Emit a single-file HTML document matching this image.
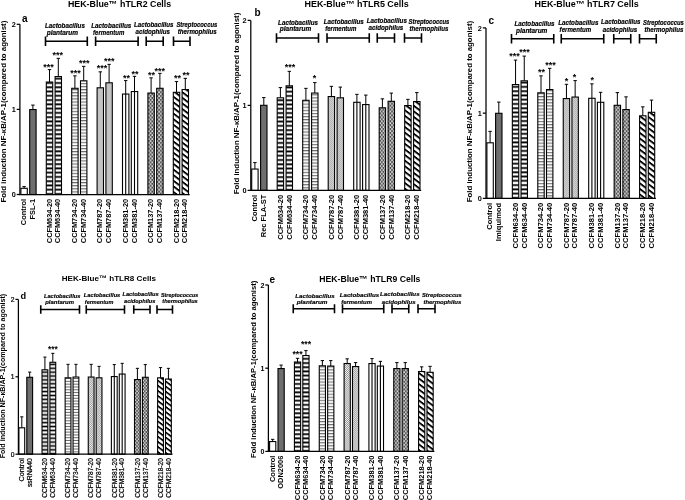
<!DOCTYPE html>
<html lang="en"><head><meta charset="utf-8"><title>HEK-Blue hTLR reporter assays</title>
<style>html,body{margin:0;padding:0;background:#fff}svg{display:block}text{font-family:'Liberation Sans', sans-serif;fill:#000}</style>
</head><body>
<svg width="685" height="500" viewBox="0 0 685 500">
<rect width="685" height="500" fill="#fff"/>
<defs><pattern id="pH0" patternUnits="userSpaceOnUse" width="8" height="4.27" patternTransform="translate(0 194.5) scale(1)"><rect width="8" height="4.27" fill="#fff"/><rect y="2.87" width="8" height="1.4" fill="#000"/><rect y="0" width="8" height="0.4" fill="#000"/></pattern><pattern id="pG0" patternUnits="userSpaceOnUse" width="8" height="3.1" patternTransform="translate(0 194.5) scale(1)"><rect width="8" height="3.1" fill="#fff"/><rect y="0.2" width="8" height="0.8" fill="#3a3a3a"/><rect y="1.8" width="8" height="0.5" fill="#ececec"/></pattern><pattern id="pD0" patternUnits="userSpaceOnUse" width="2" height="2" patternTransform="translate(0 194.5) scale(1)"><rect width="2" height="2" fill="#fff"/><rect width="0.9" height="0.9" fill="#6a6a6a"/><rect x="1" y="1" width="0.9" height="0.9" fill="#6a6a6a"/></pattern><pattern id="pB0" patternUnits="userSpaceOnUse" width="3.4" height="3.9" patternTransform="translate(0 194.5) scale(1)"><rect width="3.4" height="3.9" fill="#484848"/><rect x="0.2" y="0.3" width="1.7" height="1.5" fill="#fff"/><rect x="1.9" y="2.25" width="1.7" height="1.5" fill="#fff"/><rect x="-1.5" y="2.25" width="1.7" height="1.5" fill="#fff"/></pattern><pattern id="pX0" patternUnits="userSpaceOnUse" width="8" height="5.6" patternTransform="translate(0 194.5) scale(1) skewY(37)"><rect width="8" height="5.6" fill="#fff"/><rect y="0" width="8" height="2.3" fill="#000"/></pattern><pattern id="pH1" patternUnits="userSpaceOnUse" width="8" height="4.27" patternTransform="translate(0 190.4) scale(1)"><rect width="8" height="4.27" fill="#fff"/><rect y="2.87" width="8" height="1.4" fill="#000"/><rect y="0" width="8" height="0.4" fill="#000"/></pattern><pattern id="pG1" patternUnits="userSpaceOnUse" width="8" height="3.1" patternTransform="translate(0 190.4) scale(1)"><rect width="8" height="3.1" fill="#fff"/><rect y="0.2" width="8" height="0.8" fill="#3a3a3a"/><rect y="1.8" width="8" height="0.5" fill="#ececec"/></pattern><pattern id="pD1" patternUnits="userSpaceOnUse" width="2" height="2" patternTransform="translate(0 190.4) scale(1)"><rect width="2" height="2" fill="#fff"/><rect width="0.9" height="0.9" fill="#6a6a6a"/><rect x="1" y="1" width="0.9" height="0.9" fill="#6a6a6a"/></pattern><pattern id="pB1" patternUnits="userSpaceOnUse" width="3.4" height="3.9" patternTransform="translate(0 190.4) scale(1)"><rect width="3.4" height="3.9" fill="#484848"/><rect x="0.2" y="0.3" width="1.7" height="1.5" fill="#fff"/><rect x="1.9" y="2.25" width="1.7" height="1.5" fill="#fff"/><rect x="-1.5" y="2.25" width="1.7" height="1.5" fill="#fff"/></pattern><pattern id="pX1" patternUnits="userSpaceOnUse" width="8" height="5.6" patternTransform="translate(0 190.4) scale(1) skewY(37)"><rect width="8" height="5.6" fill="#fff"/><rect y="0" width="8" height="2.3" fill="#000"/></pattern><pattern id="pH2" patternUnits="userSpaceOnUse" width="8" height="4.27" patternTransform="translate(0 198.4) scale(1)"><rect width="8" height="4.27" fill="#fff"/><rect y="2.87" width="8" height="1.4" fill="#000"/><rect y="0" width="8" height="0.4" fill="#000"/></pattern><pattern id="pG2" patternUnits="userSpaceOnUse" width="8" height="3.1" patternTransform="translate(0 198.4) scale(1)"><rect width="8" height="3.1" fill="#fff"/><rect y="0.2" width="8" height="0.8" fill="#3a3a3a"/><rect y="1.8" width="8" height="0.5" fill="#ececec"/></pattern><pattern id="pD2" patternUnits="userSpaceOnUse" width="2" height="2" patternTransform="translate(0 198.4) scale(1)"><rect width="2" height="2" fill="#fff"/><rect width="0.9" height="0.9" fill="#6a6a6a"/><rect x="1" y="1" width="0.9" height="0.9" fill="#6a6a6a"/></pattern><pattern id="pB2" patternUnits="userSpaceOnUse" width="3.4" height="3.9" patternTransform="translate(0 198.4) scale(1)"><rect width="3.4" height="3.9" fill="#484848"/><rect x="0.2" y="0.3" width="1.7" height="1.5" fill="#fff"/><rect x="1.9" y="2.25" width="1.7" height="1.5" fill="#fff"/><rect x="-1.5" y="2.25" width="1.7" height="1.5" fill="#fff"/></pattern><pattern id="pX2" patternUnits="userSpaceOnUse" width="8" height="5.6" patternTransform="translate(0 198.4) scale(1) skewY(37)"><rect width="8" height="5.6" fill="#fff"/><rect y="0" width="8" height="2.3" fill="#000"/></pattern><pattern id="pH3" patternUnits="userSpaceOnUse" width="8" height="4.27" patternTransform="translate(0 454.2) scale(0.91)"><rect width="8" height="4.27" fill="#fff"/><rect y="2.87" width="8" height="1.4" fill="#000"/><rect y="0" width="8" height="0.4" fill="#000"/></pattern><pattern id="pG3" patternUnits="userSpaceOnUse" width="8" height="3.1" patternTransform="translate(0 454.2) scale(0.91)"><rect width="8" height="3.1" fill="#fff"/><rect y="0.2" width="8" height="0.8" fill="#3a3a3a"/><rect y="1.8" width="8" height="0.5" fill="#ececec"/></pattern><pattern id="pD3" patternUnits="userSpaceOnUse" width="2" height="2" patternTransform="translate(0 454.2) scale(0.91)"><rect width="2" height="2" fill="#fff"/><rect width="0.9" height="0.9" fill="#6a6a6a"/><rect x="1" y="1" width="0.9" height="0.9" fill="#6a6a6a"/></pattern><pattern id="pB3" patternUnits="userSpaceOnUse" width="3.4" height="3.9" patternTransform="translate(0 454.2) scale(0.91)"><rect width="3.4" height="3.9" fill="#484848"/><rect x="0.2" y="0.3" width="1.7" height="1.5" fill="#fff"/><rect x="1.9" y="2.25" width="1.7" height="1.5" fill="#fff"/><rect x="-1.5" y="2.25" width="1.7" height="1.5" fill="#fff"/></pattern><pattern id="pX3" patternUnits="userSpaceOnUse" width="8" height="5.6" patternTransform="translate(0 454.2) scale(0.91) skewY(37)"><rect width="8" height="5.6" fill="#fff"/><rect y="0" width="8" height="2.3" fill="#000"/></pattern><pattern id="pH4" patternUnits="userSpaceOnUse" width="8" height="4.27" patternTransform="translate(0 451.4) scale(0.98)"><rect width="8" height="4.27" fill="#fff"/><rect y="2.87" width="8" height="1.4" fill="#000"/><rect y="0" width="8" height="0.4" fill="#000"/></pattern><pattern id="pG4" patternUnits="userSpaceOnUse" width="8" height="3.1" patternTransform="translate(0 451.4) scale(0.98)"><rect width="8" height="3.1" fill="#fff"/><rect y="0.2" width="8" height="0.8" fill="#3a3a3a"/><rect y="1.8" width="8" height="0.5" fill="#ececec"/></pattern><pattern id="pD4" patternUnits="userSpaceOnUse" width="2" height="2" patternTransform="translate(0 451.4) scale(0.98)"><rect width="2" height="2" fill="#fff"/><rect width="0.9" height="0.9" fill="#6a6a6a"/><rect x="1" y="1" width="0.9" height="0.9" fill="#6a6a6a"/></pattern><pattern id="pB4" patternUnits="userSpaceOnUse" width="3.4" height="3.9" patternTransform="translate(0 451.4) scale(0.98)"><rect width="3.4" height="3.9" fill="#484848"/><rect x="0.2" y="0.3" width="1.7" height="1.5" fill="#fff"/><rect x="1.9" y="2.25" width="1.7" height="1.5" fill="#fff"/><rect x="-1.5" y="2.25" width="1.7" height="1.5" fill="#fff"/></pattern><pattern id="pX4" patternUnits="userSpaceOnUse" width="8" height="5.6" patternTransform="translate(0 451.4) scale(0.98) skewY(37)"><rect width="8" height="5.6" fill="#fff"/><rect y="0" width="8" height="2.3" fill="#000"/></pattern></defs>
<g>
<line x1="24.1" y1="188.3" x2="24.1" y2="186.6" stroke="#000" stroke-width="1.0"/><line x1="22.4" y1="186.6" x2="25.8" y2="186.6" stroke="#000" stroke-width="1.0"/>
<rect x="20.9" y="188.3" width="6.4" height="6.2" fill="#fff" stroke="#000" stroke-width="1.1"/>
<line x1="32.9" y1="109.55" x2="32.9" y2="105.1" stroke="#000" stroke-width="1.0"/><line x1="31.2" y1="105.1" x2="34.6" y2="105.1" stroke="#000" stroke-width="1.0"/>
<rect x="29.7" y="109.55" width="6.4" height="84.95" fill="#6e6e6e" stroke="#000" stroke-width="1.1"/>
<line x1="49.5" y1="82.05" x2="49.5" y2="69.6" stroke="#000" stroke-width="1.0"/><line x1="47.8" y1="69.6" x2="51.2" y2="69.6" stroke="#000" stroke-width="1.0"/>
<rect x="46.3" y="82.05" width="6.4" height="112.45" fill="url(#pH0)" stroke="#000" stroke-width="1.1"/>
<line x1="58.3" y1="76.55" x2="58.3" y2="58.35" stroke="#000" stroke-width="1.0"/><line x1="56.6" y1="58.35" x2="60" y2="58.35" stroke="#000" stroke-width="1.0"/>
<rect x="55.1" y="76.55" width="6.4" height="117.95" fill="url(#pH0)" stroke="#000" stroke-width="1.1"/>
<line x1="74.9" y1="88.3" x2="74.9" y2="75.85" stroke="#000" stroke-width="1.0"/><line x1="73.2" y1="75.85" x2="76.6" y2="75.85" stroke="#000" stroke-width="1.0"/>
<rect x="71.7" y="88.3" width="6.4" height="106.2" fill="url(#pG0)" stroke="#000" stroke-width="1.1"/>
<line x1="83.7" y1="80.8" x2="83.7" y2="66.35" stroke="#000" stroke-width="1.0"/><line x1="82" y1="66.35" x2="85.4" y2="66.35" stroke="#000" stroke-width="1.0"/>
<rect x="80.5" y="80.8" width="6.4" height="113.7" fill="url(#pG0)" stroke="#000" stroke-width="1.1"/>
<line x1="100.3" y1="87.8" x2="100.3" y2="71.85" stroke="#000" stroke-width="1.0"/><line x1="98.6" y1="71.85" x2="102" y2="71.85" stroke="#000" stroke-width="1.0"/>
<rect x="97.1" y="87.8" width="6.4" height="106.7" fill="url(#pD0)" stroke="#000" stroke-width="1.1"/>
<line x1="109.1" y1="82.8" x2="109.1" y2="64.35" stroke="#000" stroke-width="1.0"/><line x1="107.4" y1="64.35" x2="110.8" y2="64.35" stroke="#000" stroke-width="1.0"/>
<rect x="105.9" y="82.8" width="6.4" height="111.7" fill="url(#pD0)" stroke="#000" stroke-width="1.1"/>
<line x1="125.7" y1="94.05" x2="125.7" y2="80.6" stroke="#000" stroke-width="1.0"/><line x1="124" y1="80.6" x2="127.4" y2="80.6" stroke="#000" stroke-width="1.0"/>
<rect x="122.5" y="94.05" width="6.4" height="100.45" fill="#fff" stroke="#000" stroke-width="1.1"/><line x1="125.7" y1="94.05" x2="125.7" y2="194.5" stroke="#000" stroke-width="1.1"/>
<line x1="134.5" y1="91.55" x2="134.5" y2="76.35" stroke="#000" stroke-width="1.0"/><line x1="132.8" y1="76.35" x2="136.2" y2="76.35" stroke="#000" stroke-width="1.0"/>
<rect x="131.3" y="91.55" width="6.4" height="102.95" fill="#fff" stroke="#000" stroke-width="1.1"/><line x1="134.5" y1="91.55" x2="134.5" y2="194.5" stroke="#000" stroke-width="1.1"/>
<line x1="151.1" y1="93.05" x2="151.1" y2="77.85" stroke="#000" stroke-width="1.0"/><line x1="149.4" y1="77.85" x2="152.8" y2="77.85" stroke="#000" stroke-width="1.0"/>
<rect x="147.9" y="93.05" width="6.4" height="101.45" fill="url(#pB0)" stroke="#000" stroke-width="1.1"/>
<line x1="159.9" y1="88.3" x2="159.9" y2="73.35" stroke="#000" stroke-width="1.0"/><line x1="158.2" y1="73.35" x2="161.6" y2="73.35" stroke="#000" stroke-width="1.0"/>
<rect x="156.7" y="88.3" width="6.4" height="106.2" fill="url(#pB0)" stroke="#000" stroke-width="1.1"/>
<line x1="176.5" y1="92.3" x2="176.5" y2="81.6" stroke="#000" stroke-width="1.0"/><line x1="174.8" y1="81.6" x2="178.2" y2="81.6" stroke="#000" stroke-width="1.0"/>
<rect x="173.3" y="92.3" width="6.4" height="102.2" fill="url(#pX0)" stroke="#000" stroke-width="1.1"/>
<line x1="185.3" y1="89.55" x2="185.3" y2="78.35" stroke="#000" stroke-width="1.0"/><line x1="183.6" y1="78.35" x2="187" y2="78.35" stroke="#000" stroke-width="1.0"/>
<rect x="182.1" y="89.55" width="6.4" height="104.95" fill="url(#pX0)" stroke="#000" stroke-width="1.1"/>
<path d="M19.9 24.3V194.5H189.7" stroke="#000" stroke-width="1.25" fill="none"/>
<line x1="16.7" y1="194.5" x2="19.9" y2="194.5" stroke="#000" stroke-width="1.25"/>
<text x="15.7" y="197.1" font-size="7.3" font-weight="bold" text-anchor="end">0</text>
<line x1="16.7" y1="109.4" x2="19.9" y2="109.4" stroke="#000" stroke-width="1.25"/>
<text x="15.7" y="112" font-size="7.3" font-weight="bold" text-anchor="end">1</text>
<line x1="16.7" y1="24.3" x2="19.9" y2="24.3" stroke="#000" stroke-width="1.25"/>
<text x="15.7" y="26.9" font-size="7.3" font-weight="bold" text-anchor="end">2</text>
<text x="6.3" y="202.5" font-size="7.8" font-weight="bold" transform="rotate(-90 6.3 202.5)" textLength="181.8" lengthAdjust="spacingAndGlyphs">Fold induction NF-κB/AP-1(compared to agonist)</text>
<text x="26.24" y="198.9" font-size="7.38" font-weight="bold" text-anchor="end" transform="rotate(-90 26.24 198.9)" textLength="26.23" lengthAdjust="spacingAndGlyphs">Control</text>
<text x="35.04" y="198.9" font-size="7.38" font-weight="bold" text-anchor="end" transform="rotate(-90 35.04 198.9)" textLength="20.5" lengthAdjust="spacingAndGlyphs">FSL-1</text>
<text x="51.64" y="198.9" font-size="7.38" font-weight="bold" text-anchor="end" transform="rotate(-90 51.64 198.9)" textLength="44.29" lengthAdjust="spacingAndGlyphs">CCFM634-20</text>
<text x="60.44" y="198.9" font-size="7.38" font-weight="bold" text-anchor="end" transform="rotate(-90 60.44 198.9)" textLength="44.29" lengthAdjust="spacingAndGlyphs">CCFM634-40</text>
<text x="77.04" y="198.9" font-size="7.38" font-weight="bold" text-anchor="end" transform="rotate(-90 77.04 198.9)" textLength="44.29" lengthAdjust="spacingAndGlyphs">CCFM734-20</text>
<text x="85.84" y="198.9" font-size="7.38" font-weight="bold" text-anchor="end" transform="rotate(-90 85.84 198.9)" textLength="44.29" lengthAdjust="spacingAndGlyphs">CCFM734-40</text>
<text x="102.44" y="198.9" font-size="7.38" font-weight="bold" text-anchor="end" transform="rotate(-90 102.44 198.9)" textLength="44.29" lengthAdjust="spacingAndGlyphs">CCFM787-20</text>
<text x="111.24" y="198.9" font-size="7.38" font-weight="bold" text-anchor="end" transform="rotate(-90 111.24 198.9)" textLength="44.29" lengthAdjust="spacingAndGlyphs">CCFM787-40</text>
<text x="127.84" y="198.9" font-size="7.38" font-weight="bold" text-anchor="end" transform="rotate(-90 127.84 198.9)" textLength="44.29" lengthAdjust="spacingAndGlyphs">CCFM381-20</text>
<text x="136.64" y="198.9" font-size="7.38" font-weight="bold" text-anchor="end" transform="rotate(-90 136.64 198.9)" textLength="44.29" lengthAdjust="spacingAndGlyphs">CCFM381-40</text>
<text x="153.24" y="198.9" font-size="7.38" font-weight="bold" text-anchor="end" transform="rotate(-90 153.24 198.9)" textLength="44.29" lengthAdjust="spacingAndGlyphs">CCFM137-20</text>
<text x="162.04" y="198.9" font-size="7.38" font-weight="bold" text-anchor="end" transform="rotate(-90 162.04 198.9)" textLength="44.29" lengthAdjust="spacingAndGlyphs">CCFM137-40</text>
<text x="178.64" y="198.9" font-size="7.38" font-weight="bold" text-anchor="end" transform="rotate(-90 178.64 198.9)" textLength="44.29" lengthAdjust="spacingAndGlyphs">CCFM218-20</text>
<text x="187.44" y="198.9" font-size="7.38" font-weight="bold" text-anchor="end" transform="rotate(-90 187.44 198.9)" textLength="44.29" lengthAdjust="spacingAndGlyphs">CCFM218-40</text>
<text x="67.9" y="7.4" font-size="8.6" font-weight="bold" textLength="103.3" lengthAdjust="spacingAndGlyphs">HEK-Blue™ hTLR2 Cells</text>
<text x="22.1" y="21.6" font-size="10" font-weight="bold">a</text>
<path d="M45.5 36.55V46.05M87.3 36.55V46.05M45.5 41.3H87.3" stroke="#000" stroke-width="1.6" fill="none"/>
<path d="M95.6 36.55V46.05M138.1 36.55V46.05M95.6 41.3H138.1" stroke="#000" stroke-width="1.6" fill="none"/>
<path d="M146.2 36.55V46.05M163.2 36.55V46.05M146.2 41.3H163.2" stroke="#000" stroke-width="1.6" fill="none"/>
<path d="M173.5 36.55V46.05M190 36.55V46.05M173.5 41.3H190" stroke="#000" stroke-width="1.6" fill="none"/>
<text x="44.9" y="28.1" font-size="6.3" font-weight="bold" font-style="italic" textLength="40" lengthAdjust="spacingAndGlyphs" stroke="#000" stroke-width="0.18">Lactobacillus</text>
<text x="46.7" y="34.7" font-size="6.3" font-weight="bold" font-style="italic" textLength="31.4" lengthAdjust="spacingAndGlyphs" stroke="#000" stroke-width="0.18">plantarum</text>
<text x="91.2" y="28.1" font-size="6.3" font-weight="bold" font-style="italic" textLength="40" lengthAdjust="spacingAndGlyphs" stroke="#000" stroke-width="0.18">Lactobacillus</text>
<text x="93.1" y="34.7" font-size="6.3" font-weight="bold" font-style="italic" textLength="31.2" lengthAdjust="spacingAndGlyphs" stroke="#000" stroke-width="0.18">fermentum</text>
<text x="134" y="26.7" font-size="6.3" font-weight="bold" font-style="italic" textLength="39.5" lengthAdjust="spacingAndGlyphs" stroke="#000" stroke-width="0.18">Lactobacillus</text>
<text x="135.5" y="33.5" font-size="6.3" font-weight="bold" font-style="italic" textLength="34.5" lengthAdjust="spacingAndGlyphs" stroke="#000" stroke-width="0.18">acidophilus</text>
<text x="176.4" y="27.4" font-size="6.3" font-weight="bold" font-style="italic" textLength="40.9" lengthAdjust="spacingAndGlyphs" stroke="#000" stroke-width="0.18">Streptococcus</text>
<text x="177.8" y="34" font-size="6.3" font-weight="bold" font-style="italic" textLength="38.9" lengthAdjust="spacingAndGlyphs" stroke="#000" stroke-width="0.18">thermophilus</text>
<text x="48.5" y="69.8" font-size="9" font-weight="bold" text-anchor="middle">***</text>
<text x="57.8" y="58.2" font-size="9" font-weight="bold" text-anchor="middle">***</text>
<text x="75.6" y="76" font-size="9" font-weight="bold" text-anchor="middle">***</text>
<text x="84.2" y="65.8" font-size="9" font-weight="bold" text-anchor="middle">***</text>
<text x="102.1" y="71" font-size="9" font-weight="bold" text-anchor="middle">***</text>
<text x="109.3" y="64" font-size="9" font-weight="bold" text-anchor="middle">***</text>
<text x="126.5" y="80.9" font-size="9" font-weight="bold" text-anchor="middle">**</text>
<text x="135" y="76.9" font-size="9" font-weight="bold" text-anchor="middle">**</text>
<text x="151.5" y="77.65" font-size="9" font-weight="bold" text-anchor="middle">**</text>
<text x="159.75" y="73.65" font-size="9" font-weight="bold" text-anchor="middle">***</text>
<text x="177.5" y="81.4" font-size="9" font-weight="bold" text-anchor="middle">**</text>
<text x="186" y="78.4" font-size="9" font-weight="bold" text-anchor="middle">**</text>
</g>
<g>
<line x1="254.9" y1="169.05" x2="254.9" y2="162.6" stroke="#000" stroke-width="1.0"/><line x1="253.2" y1="162.6" x2="256.6" y2="162.6" stroke="#000" stroke-width="1.0"/>
<rect x="251.7" y="169.05" width="6.4" height="21.35" fill="#fff" stroke="#000" stroke-width="1.1"/>
<line x1="263.8" y1="105.3" x2="263.8" y2="97.6" stroke="#000" stroke-width="1.0"/><line x1="262.1" y1="97.6" x2="265.5" y2="97.6" stroke="#000" stroke-width="1.0"/>
<rect x="260.6" y="105.3" width="6.4" height="85.1" fill="#6e6e6e" stroke="#000" stroke-width="1.1"/>
<line x1="280.4" y1="97.8" x2="280.4" y2="87.6" stroke="#000" stroke-width="1.0"/><line x1="278.7" y1="87.6" x2="282.1" y2="87.6" stroke="#000" stroke-width="1.0"/>
<rect x="277.2" y="97.8" width="6.4" height="92.6" fill="url(#pH1)" stroke="#000" stroke-width="1.1"/>
<line x1="289.3" y1="85.8" x2="289.3" y2="71.35" stroke="#000" stroke-width="1.0"/><line x1="287.6" y1="71.35" x2="291" y2="71.35" stroke="#000" stroke-width="1.0"/>
<rect x="286.1" y="85.8" width="6.4" height="104.6" fill="url(#pH1)" stroke="#000" stroke-width="1.1"/>
<line x1="305.9" y1="100.3" x2="305.9" y2="88.35" stroke="#000" stroke-width="1.0"/><line x1="304.2" y1="88.35" x2="307.6" y2="88.35" stroke="#000" stroke-width="1.0"/>
<rect x="302.7" y="100.3" width="6.4" height="90.1" fill="url(#pG1)" stroke="#000" stroke-width="1.1"/>
<line x1="314.8" y1="93.05" x2="314.8" y2="82.6" stroke="#000" stroke-width="1.0"/><line x1="313.1" y1="82.6" x2="316.5" y2="82.6" stroke="#000" stroke-width="1.0"/>
<rect x="311.6" y="93.05" width="6.4" height="97.35" fill="url(#pG1)" stroke="#000" stroke-width="1.1"/>
<line x1="331.4" y1="96.55" x2="331.4" y2="86.35" stroke="#000" stroke-width="1.0"/><line x1="329.7" y1="86.35" x2="333.1" y2="86.35" stroke="#000" stroke-width="1.0"/>
<rect x="328.2" y="96.55" width="6.4" height="93.85" fill="url(#pD1)" stroke="#000" stroke-width="1.1"/>
<line x1="340.3" y1="97.8" x2="340.3" y2="87.1" stroke="#000" stroke-width="1.0"/><line x1="338.6" y1="87.1" x2="342" y2="87.1" stroke="#000" stroke-width="1.0"/>
<rect x="337.1" y="97.8" width="6.4" height="92.6" fill="url(#pD1)" stroke="#000" stroke-width="1.1"/>
<line x1="356.9" y1="102.3" x2="356.9" y2="94.35" stroke="#000" stroke-width="1.0"/><line x1="355.2" y1="94.35" x2="358.6" y2="94.35" stroke="#000" stroke-width="1.0"/>
<rect x="353.7" y="102.3" width="6.4" height="88.1" fill="#fff" stroke="#000" stroke-width="1.1"/><line x1="356.9" y1="102.3" x2="356.9" y2="190.4" stroke="#000" stroke-width="1.1"/>
<line x1="365.8" y1="104.55" x2="365.8" y2="95.1" stroke="#000" stroke-width="1.0"/><line x1="364.1" y1="95.1" x2="367.5" y2="95.1" stroke="#000" stroke-width="1.0"/>
<rect x="362.6" y="104.55" width="6.4" height="85.85" fill="#fff" stroke="#000" stroke-width="1.1"/><line x1="365.8" y1="104.55" x2="365.8" y2="190.4" stroke="#000" stroke-width="1.1"/>
<line x1="382.4" y1="107.8" x2="382.4" y2="98.85" stroke="#000" stroke-width="1.0"/><line x1="380.7" y1="98.85" x2="384.1" y2="98.85" stroke="#000" stroke-width="1.0"/>
<rect x="379.2" y="107.8" width="6.4" height="82.6" fill="url(#pB1)" stroke="#000" stroke-width="1.1"/>
<line x1="391.3" y1="101.3" x2="391.3" y2="93.1" stroke="#000" stroke-width="1.0"/><line x1="389.6" y1="93.1" x2="393" y2="93.1" stroke="#000" stroke-width="1.0"/>
<rect x="388.1" y="101.3" width="6.4" height="89.1" fill="url(#pB1)" stroke="#000" stroke-width="1.1"/>
<line x1="407.9" y1="105.55" x2="407.9" y2="99.35" stroke="#000" stroke-width="1.0"/><line x1="406.2" y1="99.35" x2="409.6" y2="99.35" stroke="#000" stroke-width="1.0"/>
<rect x="404.7" y="105.55" width="6.4" height="84.85" fill="url(#pX1)" stroke="#000" stroke-width="1.1"/>
<line x1="416.8" y1="101.55" x2="416.8" y2="92.6" stroke="#000" stroke-width="1.0"/><line x1="415.1" y1="92.6" x2="418.5" y2="92.6" stroke="#000" stroke-width="1.0"/>
<rect x="413.6" y="101.55" width="6.4" height="88.85" fill="url(#pX1)" stroke="#000" stroke-width="1.1"/>
<path d="M250.8 20.4V190.4H421.2" stroke="#000" stroke-width="1.25" fill="none"/>
<line x1="247.6" y1="190.4" x2="250.8" y2="190.4" stroke="#000" stroke-width="1.25"/>
<text x="246.6" y="193" font-size="7.3" font-weight="bold" text-anchor="end">0</text>
<line x1="247.6" y1="105.4" x2="250.8" y2="105.4" stroke="#000" stroke-width="1.25"/>
<text x="246.6" y="108" font-size="7.3" font-weight="bold" text-anchor="end">1</text>
<line x1="247.6" y1="20.4" x2="250.8" y2="20.4" stroke="#000" stroke-width="1.25"/>
<text x="246.6" y="23" font-size="7.3" font-weight="bold" text-anchor="end">2</text>
<text x="238.7" y="194.3" font-size="7.8" font-weight="bold" transform="rotate(-90 238.7 194.3)" textLength="181.6" lengthAdjust="spacingAndGlyphs">Fold induction NF-κB/AP-1(compared to agonist)</text>
<text x="257.18" y="194.8" font-size="7.48" font-weight="bold" text-anchor="end" transform="rotate(-90 257.18 194.8)" textLength="26.59" lengthAdjust="spacingAndGlyphs">Control</text>
<text x="266.08" y="194.8" font-size="7.48" font-weight="bold" text-anchor="end" transform="rotate(-90 266.08 194.8)" textLength="42.39" lengthAdjust="spacingAndGlyphs">Rec FLA-ST</text>
<text x="282.68" y="194.8" font-size="7.48" font-weight="bold" text-anchor="end" transform="rotate(-90 282.68 194.8)" textLength="44.89" lengthAdjust="spacingAndGlyphs">CCFM634-20</text>
<text x="291.58" y="194.8" font-size="7.48" font-weight="bold" text-anchor="end" transform="rotate(-90 291.58 194.8)" textLength="44.89" lengthAdjust="spacingAndGlyphs">CCFM634-40</text>
<text x="308.18" y="194.8" font-size="7.48" font-weight="bold" text-anchor="end" transform="rotate(-90 308.18 194.8)" textLength="44.89" lengthAdjust="spacingAndGlyphs">CCFM734-20</text>
<text x="317.08" y="194.8" font-size="7.48" font-weight="bold" text-anchor="end" transform="rotate(-90 317.08 194.8)" textLength="44.89" lengthAdjust="spacingAndGlyphs">CCFM734-40</text>
<text x="333.68" y="194.8" font-size="7.48" font-weight="bold" text-anchor="end" transform="rotate(-90 333.68 194.8)" textLength="44.89" lengthAdjust="spacingAndGlyphs">CCFM787-20</text>
<text x="342.58" y="194.8" font-size="7.48" font-weight="bold" text-anchor="end" transform="rotate(-90 342.58 194.8)" textLength="44.89" lengthAdjust="spacingAndGlyphs">CCFM787-40</text>
<text x="359.18" y="194.8" font-size="7.48" font-weight="bold" text-anchor="end" transform="rotate(-90 359.18 194.8)" textLength="44.89" lengthAdjust="spacingAndGlyphs">CCFM381-20</text>
<text x="368.08" y="194.8" font-size="7.48" font-weight="bold" text-anchor="end" transform="rotate(-90 368.08 194.8)" textLength="44.89" lengthAdjust="spacingAndGlyphs">CCFM381-40</text>
<text x="384.68" y="194.8" font-size="7.48" font-weight="bold" text-anchor="end" transform="rotate(-90 384.68 194.8)" textLength="44.89" lengthAdjust="spacingAndGlyphs">CCFM137-20</text>
<text x="393.58" y="194.8" font-size="7.48" font-weight="bold" text-anchor="end" transform="rotate(-90 393.58 194.8)" textLength="44.89" lengthAdjust="spacingAndGlyphs">CCFM137-40</text>
<text x="410.18" y="194.8" font-size="7.48" font-weight="bold" text-anchor="end" transform="rotate(-90 410.18 194.8)" textLength="44.89" lengthAdjust="spacingAndGlyphs">CCFM218-20</text>
<text x="419.08" y="194.8" font-size="7.48" font-weight="bold" text-anchor="end" transform="rotate(-90 419.08 194.8)" textLength="44.89" lengthAdjust="spacingAndGlyphs">CCFM218-40</text>
<text x="304.5" y="7.4" font-size="8.7" font-weight="bold" textLength="104.2" lengthAdjust="spacingAndGlyphs">HEK-Blue™ hTLR5 Cells</text>
<text x="254.6" y="15.6" font-size="10" font-weight="bold">b</text>
<path d="M276.5 33.25V42.75M318.5 33.25V42.75M276.5 38H318.5" stroke="#000" stroke-width="1.6" fill="none"/>
<path d="M327 33.25V42.75M369.25 33.25V42.75M327 38H369.25" stroke="#000" stroke-width="1.6" fill="none"/>
<path d="M377.25 33.25V42.75M394.5 33.25V42.75M377.25 38H394.5" stroke="#000" stroke-width="1.6" fill="none"/>
<path d="M404.5 33.25V42.75M421.5 33.25V42.75M404.5 38H421.5" stroke="#000" stroke-width="1.6" fill="none"/>
<text x="278.1" y="24.6" font-size="6.3" font-weight="bold" font-style="italic" textLength="40" lengthAdjust="spacingAndGlyphs" stroke="#000" stroke-width="0.18">Lactobacillus</text>
<text x="279.8" y="31" font-size="6.3" font-weight="bold" font-style="italic" textLength="31.4" lengthAdjust="spacingAndGlyphs" stroke="#000" stroke-width="0.18">plantarum</text>
<text x="323.8" y="23.5" font-size="6.3" font-weight="bold" font-style="italic" textLength="40" lengthAdjust="spacingAndGlyphs" stroke="#000" stroke-width="0.18">Lactobacillus</text>
<text x="325.2" y="31" font-size="6.3" font-weight="bold" font-style="italic" textLength="31.2" lengthAdjust="spacingAndGlyphs" stroke="#000" stroke-width="0.18">fermentum</text>
<text x="366.7" y="22.9" font-size="6.3" font-weight="bold" font-style="italic" textLength="40.2" lengthAdjust="spacingAndGlyphs" stroke="#000" stroke-width="0.18">Lactobacillus</text>
<text x="368.5" y="29.9" font-size="6.3" font-weight="bold" font-style="italic" textLength="34.8" lengthAdjust="spacingAndGlyphs" stroke="#000" stroke-width="0.18">acidophilus</text>
<text x="408.5" y="23.5" font-size="6.3" font-weight="bold" font-style="italic" textLength="40.9" lengthAdjust="spacingAndGlyphs" stroke="#000" stroke-width="0.18">Streptococcus</text>
<text x="409.5" y="31" font-size="6.3" font-weight="bold" font-style="italic" textLength="38.9" lengthAdjust="spacingAndGlyphs" stroke="#000" stroke-width="0.18">thermophilus</text>
<text x="290" y="70.4" font-size="9" font-weight="bold" text-anchor="middle">***</text>
<text x="314.5" y="81.4" font-size="9" font-weight="bold" text-anchor="middle">*</text>
</g>
<g>
<line x1="490.1" y1="142.8" x2="490.1" y2="131.35" stroke="#000" stroke-width="1.0"/><line x1="488.4" y1="131.35" x2="491.8" y2="131.35" stroke="#000" stroke-width="1.0"/>
<rect x="486.9" y="142.8" width="6.4" height="55.6" fill="#fff" stroke="#000" stroke-width="1.1"/>
<line x1="498.8" y1="113.3" x2="498.8" y2="102.1" stroke="#000" stroke-width="1.0"/><line x1="497.1" y1="102.1" x2="500.5" y2="102.1" stroke="#000" stroke-width="1.0"/>
<rect x="495.6" y="113.3" width="6.4" height="85.1" fill="#6e6e6e" stroke="#000" stroke-width="1.1"/>
<line x1="515.55" y1="84.55" x2="515.55" y2="60.1" stroke="#000" stroke-width="1.0"/><line x1="513.85" y1="60.1" x2="517.25" y2="60.1" stroke="#000" stroke-width="1.0"/>
<rect x="512.35" y="84.55" width="6.4" height="113.85" fill="url(#pH2)" stroke="#000" stroke-width="1.1"/>
<line x1="524.25" y1="80.8" x2="524.25" y2="56.1" stroke="#000" stroke-width="1.0"/><line x1="522.55" y1="56.1" x2="525.95" y2="56.1" stroke="#000" stroke-width="1.0"/>
<rect x="521.05" y="80.8" width="6.4" height="117.6" fill="url(#pH2)" stroke="#000" stroke-width="1.1"/>
<line x1="541" y1="92.8" x2="541" y2="75.85" stroke="#000" stroke-width="1.0"/><line x1="539.3" y1="75.85" x2="542.7" y2="75.85" stroke="#000" stroke-width="1.0"/>
<rect x="537.8" y="92.8" width="6.4" height="105.6" fill="url(#pG2)" stroke="#000" stroke-width="1.1"/>
<line x1="549.7" y1="89.55" x2="549.7" y2="68.35" stroke="#000" stroke-width="1.0"/><line x1="548" y1="68.35" x2="551.4" y2="68.35" stroke="#000" stroke-width="1.0"/>
<rect x="546.5" y="89.55" width="6.4" height="108.85" fill="url(#pG2)" stroke="#000" stroke-width="1.1"/>
<line x1="566.45" y1="98.55" x2="566.45" y2="84.3" stroke="#000" stroke-width="1.0"/><line x1="564.75" y1="84.3" x2="568.15" y2="84.3" stroke="#000" stroke-width="1.0"/>
<rect x="563.25" y="98.55" width="6.4" height="99.85" fill="url(#pD2)" stroke="#000" stroke-width="1.1"/>
<line x1="575.15" y1="97.05" x2="575.15" y2="80.6" stroke="#000" stroke-width="1.0"/><line x1="573.45" y1="80.6" x2="576.85" y2="80.6" stroke="#000" stroke-width="1.0"/>
<rect x="571.95" y="97.05" width="6.4" height="101.35" fill="url(#pD2)" stroke="#000" stroke-width="1.1"/>
<line x1="591.9" y1="98.3" x2="591.9" y2="83.85" stroke="#000" stroke-width="1.0"/><line x1="590.2" y1="83.85" x2="593.6" y2="83.85" stroke="#000" stroke-width="1.0"/>
<rect x="588.7" y="98.3" width="6.4" height="100.1" fill="#fff" stroke="#000" stroke-width="1.1"/><line x1="591.9" y1="98.3" x2="591.9" y2="198.4" stroke="#000" stroke-width="1.1"/>
<line x1="600.6" y1="102.3" x2="600.6" y2="92.3" stroke="#000" stroke-width="1.0"/><line x1="598.9" y1="92.3" x2="602.3" y2="92.3" stroke="#000" stroke-width="1.0"/>
<rect x="597.4" y="102.3" width="6.4" height="96.1" fill="#fff" stroke="#000" stroke-width="1.1"/><line x1="600.6" y1="102.3" x2="600.6" y2="198.4" stroke="#000" stroke-width="1.1"/>
<line x1="617.35" y1="105.3" x2="617.35" y2="92.6" stroke="#000" stroke-width="1.0"/><line x1="615.65" y1="92.6" x2="619.05" y2="92.6" stroke="#000" stroke-width="1.0"/>
<rect x="614.15" y="105.3" width="6.4" height="93.1" fill="url(#pB2)" stroke="#000" stroke-width="1.1"/>
<line x1="626.05" y1="109.55" x2="626.05" y2="96.85" stroke="#000" stroke-width="1.0"/><line x1="624.35" y1="96.85" x2="627.75" y2="96.85" stroke="#000" stroke-width="1.0"/>
<rect x="622.85" y="109.55" width="6.4" height="88.85" fill="url(#pB2)" stroke="#000" stroke-width="1.1"/>
<line x1="642.8" y1="115.8" x2="642.8" y2="106.85" stroke="#000" stroke-width="1.0"/><line x1="641.1" y1="106.85" x2="644.5" y2="106.85" stroke="#000" stroke-width="1.0"/>
<rect x="639.6" y="115.8" width="6.4" height="82.6" fill="url(#pX2)" stroke="#000" stroke-width="1.1"/>
<line x1="651.5" y1="112.3" x2="651.5" y2="100.1" stroke="#000" stroke-width="1.0"/><line x1="649.8" y1="100.1" x2="653.2" y2="100.1" stroke="#000" stroke-width="1.0"/>
<rect x="648.3" y="112.3" width="6.4" height="86.1" fill="url(#pX2)" stroke="#000" stroke-width="1.1"/>
<path d="M486 27.9V198.4H655.9" stroke="#000" stroke-width="1.25" fill="none"/>
<line x1="482.8" y1="198.4" x2="486" y2="198.4" stroke="#000" stroke-width="1.25"/>
<text x="481.8" y="201" font-size="7.3" font-weight="bold" text-anchor="end">0</text>
<line x1="482.8" y1="113.15" x2="486" y2="113.15" stroke="#000" stroke-width="1.25"/>
<text x="481.8" y="115.75" font-size="7.3" font-weight="bold" text-anchor="end">1</text>
<line x1="482.8" y1="27.9" x2="486" y2="27.9" stroke="#000" stroke-width="1.25"/>
<text x="481.8" y="30.5" font-size="7.3" font-weight="bold" text-anchor="end">2</text>
<text x="472.4" y="202.3" font-size="7.8" font-weight="bold" transform="rotate(-90 472.4 202.3)" textLength="181.5" lengthAdjust="spacingAndGlyphs">Fold induction NF-κB/AP-1(compared to agonist)</text>
<text x="492.42" y="202.8" font-size="7.6" font-weight="bold" text-anchor="end" transform="rotate(-90 492.42 202.8)" textLength="27.02" lengthAdjust="spacingAndGlyphs">Control</text>
<text x="501.12" y="202.8" font-size="7.6" font-weight="bold" text-anchor="end" transform="rotate(-90 501.12 202.8)" textLength="38.42" lengthAdjust="spacingAndGlyphs">Imiquimod</text>
<text x="517.87" y="202.8" font-size="7.6" font-weight="bold" text-anchor="end" transform="rotate(-90 517.87 202.8)" textLength="45.62" lengthAdjust="spacingAndGlyphs">CCFM634-20</text>
<text x="526.57" y="202.8" font-size="7.6" font-weight="bold" text-anchor="end" transform="rotate(-90 526.57 202.8)" textLength="45.62" lengthAdjust="spacingAndGlyphs">CCFM634-40</text>
<text x="543.32" y="202.8" font-size="7.6" font-weight="bold" text-anchor="end" transform="rotate(-90 543.32 202.8)" textLength="45.62" lengthAdjust="spacingAndGlyphs">CCFM734-20</text>
<text x="552.02" y="202.8" font-size="7.6" font-weight="bold" text-anchor="end" transform="rotate(-90 552.02 202.8)" textLength="45.62" lengthAdjust="spacingAndGlyphs">CCFM734-40</text>
<text x="568.77" y="202.8" font-size="7.6" font-weight="bold" text-anchor="end" transform="rotate(-90 568.77 202.8)" textLength="45.62" lengthAdjust="spacingAndGlyphs">CCFM787-20</text>
<text x="577.47" y="202.8" font-size="7.6" font-weight="bold" text-anchor="end" transform="rotate(-90 577.47 202.8)" textLength="45.62" lengthAdjust="spacingAndGlyphs">CCFM787-40</text>
<text x="594.22" y="202.8" font-size="7.6" font-weight="bold" text-anchor="end" transform="rotate(-90 594.22 202.8)" textLength="45.62" lengthAdjust="spacingAndGlyphs">CCFM381-20</text>
<text x="602.92" y="202.8" font-size="7.6" font-weight="bold" text-anchor="end" transform="rotate(-90 602.92 202.8)" textLength="45.62" lengthAdjust="spacingAndGlyphs">CCFM381-40</text>
<text x="619.67" y="202.8" font-size="7.6" font-weight="bold" text-anchor="end" transform="rotate(-90 619.67 202.8)" textLength="45.62" lengthAdjust="spacingAndGlyphs">CCFM137-20</text>
<text x="628.37" y="202.8" font-size="7.6" font-weight="bold" text-anchor="end" transform="rotate(-90 628.37 202.8)" textLength="45.62" lengthAdjust="spacingAndGlyphs">CCFM137-40</text>
<text x="645.12" y="202.8" font-size="7.6" font-weight="bold" text-anchor="end" transform="rotate(-90 645.12 202.8)" textLength="45.62" lengthAdjust="spacingAndGlyphs">CCFM218-20</text>
<text x="653.82" y="202.8" font-size="7.6" font-weight="bold" text-anchor="end" transform="rotate(-90 653.82 202.8)" textLength="45.62" lengthAdjust="spacingAndGlyphs">CCFM218-40</text>
<text x="534.5" y="7.4" font-size="8.7" font-weight="bold" textLength="104.2" lengthAdjust="spacingAndGlyphs">HEK-Blue™ hTLR7 Cells</text>
<text x="488.6" y="23.9" font-size="10" font-weight="bold">c</text>
<path d="M511.5 34V43.5M553.75 34V43.5M511.5 38.75H553.75" stroke="#000" stroke-width="1.6" fill="none"/>
<path d="M561.25 34V43.5M603.75 34V43.5M561.25 38.75H603.75" stroke="#000" stroke-width="1.6" fill="none"/>
<path d="M613.75 34V43.5M630.75 34V43.5M613.75 38.75H630.75" stroke="#000" stroke-width="1.6" fill="none"/>
<path d="M639.5 34V43.5M656.25 34V43.5M639.5 38.75H656.25" stroke="#000" stroke-width="1.6" fill="none"/>
<text x="514.4" y="25.9" font-size="6.3" font-weight="bold" font-style="italic" textLength="40.2" lengthAdjust="spacingAndGlyphs" stroke="#000" stroke-width="0.18">Lactobacillus</text>
<text x="516" y="32.6" font-size="6.3" font-weight="bold" font-style="italic" textLength="31.4" lengthAdjust="spacingAndGlyphs" stroke="#000" stroke-width="0.18">plantarum</text>
<text x="558.2" y="24.7" font-size="6.3" font-weight="bold" font-style="italic" textLength="40.2" lengthAdjust="spacingAndGlyphs" stroke="#000" stroke-width="0.18">Lactobacillus</text>
<text x="559.6" y="31.7" font-size="6.3" font-weight="bold" font-style="italic" textLength="31.6" lengthAdjust="spacingAndGlyphs" stroke="#000" stroke-width="0.18">fermentum</text>
<text x="601" y="24" font-size="6.3" font-weight="bold" font-style="italic" textLength="39.5" lengthAdjust="spacingAndGlyphs" stroke="#000" stroke-width="0.18">Lactobacillus</text>
<text x="602.7" y="31.6" font-size="6.3" font-weight="bold" font-style="italic" textLength="34.5" lengthAdjust="spacingAndGlyphs" stroke="#000" stroke-width="0.18">acidophilus</text>
<text x="643" y="24.5" font-size="6.3" font-weight="bold" font-style="italic" textLength="40.9" lengthAdjust="spacingAndGlyphs" stroke="#000" stroke-width="0.18">Streptococcus</text>
<text x="644.5" y="31.5" font-size="6.3" font-weight="bold" font-style="italic" textLength="38.9" lengthAdjust="spacingAndGlyphs" stroke="#000" stroke-width="0.18">thermophilus</text>
<text x="514.5" y="58.9" font-size="9" font-weight="bold" text-anchor="middle">***</text>
<text x="524.5" y="55.4" font-size="9" font-weight="bold" text-anchor="middle">***</text>
<text x="541.5" y="75.4" font-size="9" font-weight="bold" text-anchor="middle">**</text>
<text x="550.5" y="67.9" font-size="9" font-weight="bold" text-anchor="middle">***</text>
<text x="566.4" y="83.6" font-size="9" font-weight="bold" text-anchor="middle">*</text>
<text x="574.6" y="80.4" font-size="9" font-weight="bold" text-anchor="middle">*</text>
<text x="592.2" y="83.1" font-size="9" font-weight="bold" text-anchor="middle">*</text>
</g>
<g>
<line x1="21.8" y1="427.8" x2="21.8" y2="416.85" stroke="#000" stroke-width="1.0"/><line x1="20.24" y1="416.85" x2="23.36" y2="416.85" stroke="#000" stroke-width="1.0"/>
<rect x="18.9" y="427.8" width="5.8" height="26.4" fill="#fff" stroke="#000" stroke-width="1.1"/>
<line x1="29.7" y1="377.3" x2="29.7" y2="372.1" stroke="#000" stroke-width="1.0"/><line x1="28.14" y1="372.1" x2="31.26" y2="372.1" stroke="#000" stroke-width="1.0"/>
<rect x="26.8" y="377.3" width="5.8" height="76.9" fill="#6e6e6e" stroke="#000" stroke-width="1.1"/>
<line x1="44.92" y1="369.8" x2="44.92" y2="357.1" stroke="#000" stroke-width="1.0"/><line x1="43.36" y1="357.1" x2="46.48" y2="357.1" stroke="#000" stroke-width="1.0"/>
<rect x="42.02" y="369.8" width="5.8" height="84.4" fill="url(#pH3)" stroke="#000" stroke-width="1.1"/>
<line x1="52.82" y1="362.3" x2="52.82" y2="353.35" stroke="#000" stroke-width="1.0"/><line x1="51.26" y1="353.35" x2="54.38" y2="353.35" stroke="#000" stroke-width="1.0"/>
<rect x="49.92" y="362.3" width="5.8" height="91.9" fill="url(#pH3)" stroke="#000" stroke-width="1.1"/>
<line x1="68.04" y1="377.8" x2="68.04" y2="364.35" stroke="#000" stroke-width="1.0"/><line x1="66.48" y1="364.35" x2="69.6" y2="364.35" stroke="#000" stroke-width="1.0"/>
<rect x="65.14" y="377.8" width="5.8" height="76.4" fill="url(#pG3)" stroke="#000" stroke-width="1.1"/>
<line x1="75.94" y1="377.05" x2="75.94" y2="364.35" stroke="#000" stroke-width="1.0"/><line x1="74.38" y1="364.35" x2="77.5" y2="364.35" stroke="#000" stroke-width="1.0"/>
<rect x="73.04" y="377.05" width="5.8" height="77.15" fill="url(#pG3)" stroke="#000" stroke-width="1.1"/>
<line x1="91.16" y1="377.05" x2="91.16" y2="364.35" stroke="#000" stroke-width="1.0"/><line x1="89.6" y1="364.35" x2="92.72" y2="364.35" stroke="#000" stroke-width="1.0"/>
<rect x="88.26" y="377.05" width="5.8" height="77.15" fill="url(#pD3)" stroke="#000" stroke-width="1.1"/>
<line x1="99.06" y1="377.8" x2="99.06" y2="366.35" stroke="#000" stroke-width="1.0"/><line x1="97.5" y1="366.35" x2="100.62" y2="366.35" stroke="#000" stroke-width="1.0"/>
<rect x="96.16" y="377.8" width="5.8" height="76.4" fill="url(#pD3)" stroke="#000" stroke-width="1.1"/>
<line x1="114.28" y1="376.55" x2="114.28" y2="364.6" stroke="#000" stroke-width="1.0"/><line x1="112.72" y1="364.6" x2="115.84" y2="364.6" stroke="#000" stroke-width="1.0"/>
<rect x="111.38" y="376.55" width="5.8" height="77.65" fill="#fff" stroke="#000" stroke-width="1.1"/><line x1="114.28" y1="376.55" x2="114.28" y2="454.2" stroke="#000" stroke-width="1.1"/>
<line x1="122.18" y1="374.05" x2="122.18" y2="363.35" stroke="#000" stroke-width="1.0"/><line x1="120.62" y1="363.35" x2="123.74" y2="363.35" stroke="#000" stroke-width="1.0"/>
<rect x="119.28" y="374.05" width="5.8" height="80.15" fill="#fff" stroke="#000" stroke-width="1.1"/><line x1="122.18" y1="374.05" x2="122.18" y2="454.2" stroke="#000" stroke-width="1.1"/>
<line x1="137.4" y1="379.55" x2="137.4" y2="368.35" stroke="#000" stroke-width="1.0"/><line x1="135.84" y1="368.35" x2="138.96" y2="368.35" stroke="#000" stroke-width="1.0"/>
<rect x="134.5" y="379.55" width="5.8" height="74.65" fill="url(#pB3)" stroke="#000" stroke-width="1.1"/>
<line x1="145.3" y1="377.3" x2="145.3" y2="364.6" stroke="#000" stroke-width="1.0"/><line x1="143.74" y1="364.6" x2="146.86" y2="364.6" stroke="#000" stroke-width="1.0"/>
<rect x="142.4" y="377.3" width="5.8" height="76.9" fill="url(#pB3)" stroke="#000" stroke-width="1.1"/>
<line x1="160.52" y1="377.8" x2="160.52" y2="367.6" stroke="#000" stroke-width="1.0"/><line x1="158.96" y1="367.6" x2="162.08" y2="367.6" stroke="#000" stroke-width="1.0"/>
<rect x="157.62" y="377.8" width="5.8" height="76.4" fill="url(#pX3)" stroke="#000" stroke-width="1.1"/>
<line x1="168.42" y1="379.05" x2="168.42" y2="368.35" stroke="#000" stroke-width="1.0"/><line x1="166.86" y1="368.35" x2="169.98" y2="368.35" stroke="#000" stroke-width="1.0"/>
<rect x="165.52" y="379.05" width="5.8" height="75.15" fill="url(#pX3)" stroke="#000" stroke-width="1.1"/>
<path d="M18.4 299.4V454.2H172.52" stroke="#000" stroke-width="1.25" fill="none"/>
<line x1="15.46" y1="454.2" x2="18.4" y2="454.2" stroke="#000" stroke-width="1.25"/>
<text x="14.54" y="456.59" font-size="6.72" font-weight="normal" text-anchor="end" stroke="#000" stroke-width="0.22">0</text>
<line x1="15.46" y1="376.8" x2="18.4" y2="376.8" stroke="#000" stroke-width="1.25"/>
<text x="14.54" y="379.19" font-size="6.72" font-weight="normal" text-anchor="end" stroke="#000" stroke-width="0.22">1</text>
<line x1="15.46" y1="299.4" x2="18.4" y2="299.4" stroke="#000" stroke-width="1.25"/>
<text x="14.54" y="301.79" font-size="6.72" font-weight="normal" text-anchor="end" stroke="#000" stroke-width="0.22">2</text>
<text x="5.5" y="458.3" font-size="6.3" font-weight="bold" transform="rotate(-90 5.5 458.3)" textLength="164.5" lengthAdjust="spacingAndGlyphs">Fold induction NF-κB/AP-1(compared to agonist)</text>
<text x="24.05" y="458.2" font-size="6.37" font-weight="normal" text-anchor="end" transform="rotate(-90 24.05 458.2)" textLength="23.35" lengthAdjust="spacingAndGlyphs" stroke="#000" stroke-width="0.22">Control</text>
<text x="31.95" y="458.2" font-size="6.37" font-weight="normal" text-anchor="end" transform="rotate(-90 31.95 458.2)" textLength="28.85" lengthAdjust="spacingAndGlyphs" stroke="#000" stroke-width="0.22">ssRNA40</text>
<text x="47.17" y="458.2" font-size="6.37" font-weight="normal" text-anchor="end" transform="rotate(-90 47.17 458.2)" textLength="39.43" lengthAdjust="spacingAndGlyphs" stroke="#000" stroke-width="0.22">CCFM634-20</text>
<text x="55.07" y="458.2" font-size="6.37" font-weight="normal" text-anchor="end" transform="rotate(-90 55.07 458.2)" textLength="39.43" lengthAdjust="spacingAndGlyphs" stroke="#000" stroke-width="0.22">CCFM634-40</text>
<text x="70.29" y="458.2" font-size="6.37" font-weight="normal" text-anchor="end" transform="rotate(-90 70.29 458.2)" textLength="39.43" lengthAdjust="spacingAndGlyphs" stroke="#000" stroke-width="0.22">CCFM734-20</text>
<text x="78.19" y="458.2" font-size="6.37" font-weight="normal" text-anchor="end" transform="rotate(-90 78.19 458.2)" textLength="39.43" lengthAdjust="spacingAndGlyphs" stroke="#000" stroke-width="0.22">CCFM734-40</text>
<text x="93.41" y="458.2" font-size="6.37" font-weight="normal" text-anchor="end" transform="rotate(-90 93.41 458.2)" textLength="39.43" lengthAdjust="spacingAndGlyphs" stroke="#000" stroke-width="0.22">CCFM787-20</text>
<text x="101.31" y="458.2" font-size="6.37" font-weight="normal" text-anchor="end" transform="rotate(-90 101.31 458.2)" textLength="39.43" lengthAdjust="spacingAndGlyphs" stroke="#000" stroke-width="0.22">CCFM787-40</text>
<text x="116.53" y="458.2" font-size="6.37" font-weight="normal" text-anchor="end" transform="rotate(-90 116.53 458.2)" textLength="39.43" lengthAdjust="spacingAndGlyphs" stroke="#000" stroke-width="0.22">CCFM381-20</text>
<text x="124.43" y="458.2" font-size="6.37" font-weight="normal" text-anchor="end" transform="rotate(-90 124.43 458.2)" textLength="39.43" lengthAdjust="spacingAndGlyphs" stroke="#000" stroke-width="0.22">CCFM381-40</text>
<text x="139.65" y="458.2" font-size="6.37" font-weight="normal" text-anchor="end" transform="rotate(-90 139.65 458.2)" textLength="39.43" lengthAdjust="spacingAndGlyphs" stroke="#000" stroke-width="0.22">CCFM137-20</text>
<text x="147.55" y="458.2" font-size="6.37" font-weight="normal" text-anchor="end" transform="rotate(-90 147.55 458.2)" textLength="39.43" lengthAdjust="spacingAndGlyphs" stroke="#000" stroke-width="0.22">CCFM137-40</text>
<text x="162.77" y="458.2" font-size="6.37" font-weight="normal" text-anchor="end" transform="rotate(-90 162.77 458.2)" textLength="39.43" lengthAdjust="spacingAndGlyphs" stroke="#000" stroke-width="0.22">CCFM218-20</text>
<text x="170.67" y="458.2" font-size="6.37" font-weight="normal" text-anchor="end" transform="rotate(-90 170.67 458.2)" textLength="39.43" lengthAdjust="spacingAndGlyphs" stroke="#000" stroke-width="0.22">CCFM218-40</text>
<text x="61.7" y="281.1" font-size="7.9" font-weight="bold" textLength="94.2" lengthAdjust="spacingAndGlyphs">HEK-Blue™ hTLR8 Cells</text>
<text x="20.6" y="298.7" font-size="9.2" font-weight="bold">d</text>
<path d="M40.75 305.13V313.87M79.5 305.13V313.87M40.75 309.5H79.5" stroke="#000" stroke-width="1.6" fill="none"/>
<path d="M86.25 305.13V313.87M124.5 305.13V313.87M86.25 309.5H124.5" stroke="#000" stroke-width="1.6" fill="none"/>
<path d="M133.75 305.13V313.87M150 305.13V313.87M133.75 309.5H150" stroke="#000" stroke-width="1.6" fill="none"/>
<path d="M157 305.13V313.87M172.5 305.13V313.87M157 309.5H172.5" stroke="#000" stroke-width="1.6" fill="none"/>
<text x="43.9" y="297.6" font-size="5.8" font-weight="bold" font-style="italic" textLength="36.5" lengthAdjust="spacingAndGlyphs" stroke="#000" stroke-width="0.18">Lactobacillus</text>
<text x="45.2" y="304.4" font-size="5.8" font-weight="bold" font-style="italic" textLength="28.8" lengthAdjust="spacingAndGlyphs" stroke="#000" stroke-width="0.18">plantarum</text>
<text x="83.8" y="297.4" font-size="5.8" font-weight="bold" font-style="italic" textLength="36.5" lengthAdjust="spacingAndGlyphs" stroke="#000" stroke-width="0.18">Lactobacillus</text>
<text x="84.8" y="303.8" font-size="5.8" font-weight="bold" font-style="italic" textLength="28.6" lengthAdjust="spacingAndGlyphs" stroke="#000" stroke-width="0.18">fermentum</text>
<text x="122.5" y="296.1" font-size="5.8" font-weight="bold" font-style="italic" textLength="36.2" lengthAdjust="spacingAndGlyphs" stroke="#000" stroke-width="0.18">Lactobacillus</text>
<text x="124" y="303" font-size="5.8" font-weight="bold" font-style="italic" textLength="31.4" lengthAdjust="spacingAndGlyphs" stroke="#000" stroke-width="0.18">acidophilus</text>
<text x="161" y="297" font-size="5.8" font-weight="bold" font-style="italic" textLength="37.3" lengthAdjust="spacingAndGlyphs" stroke="#000" stroke-width="0.18">Streptococcus</text>
<text x="162.3" y="303.3" font-size="5.8" font-weight="bold" font-style="italic" textLength="35.4" lengthAdjust="spacingAndGlyphs" stroke="#000" stroke-width="0.18">thermophilus</text>
<text x="52.8" y="351.55" font-size="8.28" font-weight="bold" text-anchor="middle">***</text>
</g>
<g>
<line x1="272.7" y1="441.55" x2="272.7" y2="439.35" stroke="#000" stroke-width="1.0"/><line x1="271.05" y1="439.35" x2="274.35" y2="439.35" stroke="#000" stroke-width="1.0"/>
<rect x="269.6" y="441.55" width="6.2" height="9.85" fill="#fff" stroke="#000" stroke-width="1.1"/>
<line x1="281.1" y1="368.55" x2="281.1" y2="365.1" stroke="#000" stroke-width="1.0"/><line x1="279.45" y1="365.1" x2="282.75" y2="365.1" stroke="#000" stroke-width="1.0"/>
<rect x="278" y="368.55" width="6.2" height="82.85" fill="#6e6e6e" stroke="#000" stroke-width="1.1"/>
<line x1="297.53" y1="362.05" x2="297.53" y2="358.35" stroke="#000" stroke-width="1.0"/><line x1="295.88" y1="358.35" x2="299.18" y2="358.35" stroke="#000" stroke-width="1.0"/>
<rect x="294.43" y="362.05" width="6.2" height="89.35" fill="url(#pH4)" stroke="#000" stroke-width="1.1"/>
<line x1="305.93" y1="355.55" x2="305.93" y2="350.6" stroke="#000" stroke-width="1.0"/><line x1="304.28" y1="350.6" x2="307.58" y2="350.6" stroke="#000" stroke-width="1.0"/>
<rect x="302.83" y="355.55" width="6.2" height="95.85" fill="url(#pH4)" stroke="#000" stroke-width="1.1"/>
<line x1="322.36" y1="365.8" x2="322.36" y2="360.6" stroke="#000" stroke-width="1.0"/><line x1="320.71" y1="360.6" x2="324.01" y2="360.6" stroke="#000" stroke-width="1.0"/>
<rect x="319.26" y="365.8" width="6.2" height="85.6" fill="url(#pG4)" stroke="#000" stroke-width="1.1"/>
<line x1="330.76" y1="366.05" x2="330.76" y2="360.6" stroke="#000" stroke-width="1.0"/><line x1="329.11" y1="360.6" x2="332.41" y2="360.6" stroke="#000" stroke-width="1.0"/>
<rect x="327.66" y="366.05" width="6.2" height="85.35" fill="url(#pG4)" stroke="#000" stroke-width="1.1"/>
<line x1="347.19" y1="363.55" x2="347.19" y2="358.85" stroke="#000" stroke-width="1.0"/><line x1="345.54" y1="358.85" x2="348.84" y2="358.85" stroke="#000" stroke-width="1.0"/>
<rect x="344.09" y="363.55" width="6.2" height="87.85" fill="url(#pD4)" stroke="#000" stroke-width="1.1"/>
<line x1="355.59" y1="366.55" x2="355.59" y2="362.6" stroke="#000" stroke-width="1.0"/><line x1="353.94" y1="362.6" x2="357.24" y2="362.6" stroke="#000" stroke-width="1.0"/>
<rect x="352.49" y="366.55" width="6.2" height="84.85" fill="url(#pD4)" stroke="#000" stroke-width="1.1"/>
<line x1="372.02" y1="363.55" x2="372.02" y2="358.6" stroke="#000" stroke-width="1.0"/><line x1="370.37" y1="358.6" x2="373.67" y2="358.6" stroke="#000" stroke-width="1.0"/>
<rect x="368.92" y="363.55" width="6.2" height="87.85" fill="#fff" stroke="#000" stroke-width="1.1"/><line x1="372.02" y1="363.55" x2="372.02" y2="451.4" stroke="#000" stroke-width="1.1"/>
<line x1="380.42" y1="366.05" x2="380.42" y2="361.35" stroke="#000" stroke-width="1.0"/><line x1="378.77" y1="361.35" x2="382.07" y2="361.35" stroke="#000" stroke-width="1.0"/>
<rect x="377.32" y="366.05" width="6.2" height="85.35" fill="#fff" stroke="#000" stroke-width="1.1"/><line x1="380.42" y1="366.05" x2="380.42" y2="451.4" stroke="#000" stroke-width="1.1"/>
<line x1="396.85" y1="368.55" x2="396.85" y2="362.6" stroke="#000" stroke-width="1.0"/><line x1="395.2" y1="362.6" x2="398.5" y2="362.6" stroke="#000" stroke-width="1.0"/>
<rect x="393.75" y="368.55" width="6.2" height="82.85" fill="url(#pB4)" stroke="#000" stroke-width="1.1"/>
<line x1="405.25" y1="368.55" x2="405.25" y2="362.6" stroke="#000" stroke-width="1.0"/><line x1="403.6" y1="362.6" x2="406.9" y2="362.6" stroke="#000" stroke-width="1.0"/>
<rect x="402.15" y="368.55" width="6.2" height="82.85" fill="url(#pB4)" stroke="#000" stroke-width="1.1"/>
<line x1="421.68" y1="371.55" x2="421.68" y2="366.85" stroke="#000" stroke-width="1.0"/><line x1="420.03" y1="366.85" x2="423.33" y2="366.85" stroke="#000" stroke-width="1.0"/>
<rect x="418.58" y="371.55" width="6.2" height="79.85" fill="url(#pX4)" stroke="#000" stroke-width="1.1"/>
<line x1="430.08" y1="372.3" x2="430.08" y2="366.35" stroke="#000" stroke-width="1.0"/><line x1="428.43" y1="366.35" x2="431.73" y2="366.35" stroke="#000" stroke-width="1.0"/>
<rect x="426.98" y="372.3" width="6.2" height="79.1" fill="url(#pX4)" stroke="#000" stroke-width="1.1"/>
<path d="M268.4 285V451.4H434.38" stroke="#000" stroke-width="1.25" fill="none"/>
<line x1="265.3" y1="451.4" x2="268.4" y2="451.4" stroke="#000" stroke-width="1.25"/>
<text x="264.33" y="453.92" font-size="7.08" font-weight="bold" text-anchor="end">0</text>
<line x1="265.3" y1="368.2" x2="268.4" y2="368.2" stroke="#000" stroke-width="1.25"/>
<text x="264.33" y="370.72" font-size="7.08" font-weight="bold" text-anchor="end">1</text>
<line x1="265.3" y1="285" x2="268.4" y2="285" stroke="#000" stroke-width="1.25"/>
<text x="264.33" y="287.52" font-size="7.08" font-weight="bold" text-anchor="end">2</text>
<text x="256.4" y="458" font-size="7.6" font-weight="bold" transform="rotate(-90 256.4 458)" textLength="177.3" lengthAdjust="spacingAndGlyphs">Fold induction NF-κB/AP-1(compared to agonist)</text>
<text x="275.06" y="455.6" font-size="7.43" font-weight="bold" text-anchor="end" transform="rotate(-90 275.06 455.6)" textLength="26.41" lengthAdjust="spacingAndGlyphs">Control</text>
<text x="283.46" y="455.6" font-size="7.43" font-weight="bold" text-anchor="end" transform="rotate(-90 283.46 455.6)" textLength="33.04" lengthAdjust="spacingAndGlyphs">ODN2006</text>
<text x="299.89" y="455.6" font-size="7.43" font-weight="bold" text-anchor="end" transform="rotate(-90 299.89 455.6)" textLength="44.59" lengthAdjust="spacingAndGlyphs">CCFM634-20</text>
<text x="308.29" y="455.6" font-size="7.43" font-weight="bold" text-anchor="end" transform="rotate(-90 308.29 455.6)" textLength="44.59" lengthAdjust="spacingAndGlyphs">CCFM634-40</text>
<text x="324.72" y="455.6" font-size="7.43" font-weight="bold" text-anchor="end" transform="rotate(-90 324.72 455.6)" textLength="44.59" lengthAdjust="spacingAndGlyphs">CCFM734-20</text>
<text x="333.12" y="455.6" font-size="7.43" font-weight="bold" text-anchor="end" transform="rotate(-90 333.12 455.6)" textLength="44.59" lengthAdjust="spacingAndGlyphs">CCFM734-40</text>
<text x="349.55" y="455.6" font-size="7.43" font-weight="bold" text-anchor="end" transform="rotate(-90 349.55 455.6)" textLength="44.59" lengthAdjust="spacingAndGlyphs">CCFM787-20</text>
<text x="357.95" y="455.6" font-size="7.43" font-weight="bold" text-anchor="end" transform="rotate(-90 357.95 455.6)" textLength="44.59" lengthAdjust="spacingAndGlyphs">CCFM787-40</text>
<text x="374.38" y="455.6" font-size="7.43" font-weight="bold" text-anchor="end" transform="rotate(-90 374.38 455.6)" textLength="44.59" lengthAdjust="spacingAndGlyphs">CCFM381-20</text>
<text x="382.78" y="455.6" font-size="7.43" font-weight="bold" text-anchor="end" transform="rotate(-90 382.78 455.6)" textLength="44.59" lengthAdjust="spacingAndGlyphs">CCFM381-40</text>
<text x="399.21" y="455.6" font-size="7.43" font-weight="bold" text-anchor="end" transform="rotate(-90 399.21 455.6)" textLength="44.59" lengthAdjust="spacingAndGlyphs">CCFM137-20</text>
<text x="407.61" y="455.6" font-size="7.43" font-weight="bold" text-anchor="end" transform="rotate(-90 407.61 455.6)" textLength="44.59" lengthAdjust="spacingAndGlyphs">CCFM137-40</text>
<text x="424.04" y="455.6" font-size="7.43" font-weight="bold" text-anchor="end" transform="rotate(-90 424.04 455.6)" textLength="44.59" lengthAdjust="spacingAndGlyphs">CCFM218-20</text>
<text x="432.44" y="455.6" font-size="7.43" font-weight="bold" text-anchor="end" transform="rotate(-90 432.44 455.6)" textLength="44.59" lengthAdjust="spacingAndGlyphs">CCFM218-40</text>
<text x="319.2" y="281.7" font-size="8.5" font-weight="bold" textLength="101.2" lengthAdjust="spacingAndGlyphs">HEK-Blue™ hTLR9 Cells</text>
<text x="269.5" y="283.4" font-size="10" font-weight="bold">e</text>
<path d="M293.25 304.14V313.36M334.5 304.14V313.36M293.25 308.75H334.5" stroke="#000" stroke-width="1.6" fill="none"/>
<path d="M342.5 304.14V313.36M383.75 304.14V313.36M342.5 308.75H383.75" stroke="#000" stroke-width="1.6" fill="none"/>
<path d="M392 304.14V313.36M408.75 304.14V313.36M392 308.75H408.75" stroke="#000" stroke-width="1.6" fill="none"/>
<path d="M418 304.14V313.36M435 304.14V313.36M418 308.75H435" stroke="#000" stroke-width="1.6" fill="none"/>
<text x="295.3" y="297.6" font-size="6.11" font-weight="bold" font-style="italic" textLength="39.3" lengthAdjust="spacingAndGlyphs" stroke="#000" stroke-width="0.18">Lactobacillus</text>
<text x="296.7" y="304.4" font-size="6.11" font-weight="bold" font-style="italic" textLength="30.8" lengthAdjust="spacingAndGlyphs" stroke="#000" stroke-width="0.18">plantarum</text>
<text x="339.7" y="296.6" font-size="6.11" font-weight="bold" font-style="italic" textLength="39.5" lengthAdjust="spacingAndGlyphs" stroke="#000" stroke-width="0.18">Lactobacillus</text>
<text x="341.2" y="303.5" font-size="6.11" font-weight="bold" font-style="italic" textLength="30.8" lengthAdjust="spacingAndGlyphs" stroke="#000" stroke-width="0.18">fermentum</text>
<text x="380" y="296.1" font-size="6.11" font-weight="bold" font-style="italic" textLength="39.6" lengthAdjust="spacingAndGlyphs" stroke="#000" stroke-width="0.18">Lactobacillus</text>
<text x="381.8" y="303.6" font-size="6.11" font-weight="bold" font-style="italic" textLength="33.8" lengthAdjust="spacingAndGlyphs" stroke="#000" stroke-width="0.18">acidophilus</text>
<text x="422" y="297" font-size="6.11" font-weight="bold" font-style="italic" textLength="39.8" lengthAdjust="spacingAndGlyphs" stroke="#000" stroke-width="0.18">Streptococcus</text>
<text x="423.4" y="303.5" font-size="6.11" font-weight="bold" font-style="italic" textLength="37.9" lengthAdjust="spacingAndGlyphs" stroke="#000" stroke-width="0.18">thermophilus</text>
<text x="297.5" y="356.77" font-size="8.73" font-weight="bold" text-anchor="middle">***</text>
<text x="306" y="347.07" font-size="8.73" font-weight="bold" text-anchor="middle">***</text>
</g>
</svg></body></html>
